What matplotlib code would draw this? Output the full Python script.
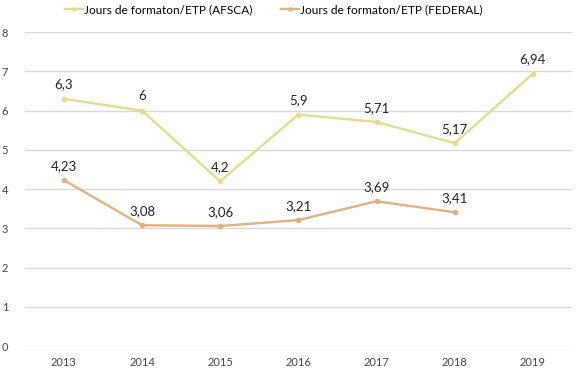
import matplotlib.pyplot as plt

# --- data ---
years = ['2013', '2014', '2015', '2016', '2017', '2018', '2019']
afsca = [6.3, 6.0, 4.2, 5.9, 5.71, 5.17, 6.94]
federal = [4.23, 3.08, 3.06, 3.21, 3.69, 3.41]
afsca_labels = ['6,3', '6', '4,2', '5,9', '5,71', '5,17', '6,94']
federal_labels = ['4,23', '3,08', '3,06', '3,21', '3,69', '3,41']

plt.rcParams['font.family'] = ['Lato', 'DejaVu Sans']

fig = plt.figure(figsize=(5.76, 3.69), dpi=100)
ax = fig.add_axes([0.043, 0.062, 0.95, 0.851])

x_a = list(range(len(afsca)))
x_f = list(range(len(federal)))
c_a = '#E6DB8C'
c_f = '#E2B07E'

ax.plot(x_a, afsca, '-o', color=c_a, lw=1.7, ms=3, label='Jours de formaton/ETP (AFSCA)')
ax.plot(x_f, federal, '-o', color=c_f, lw=1.7, ms=3, label='Jours de formaton/ETP (FEDERAL)')

for x, y, t in zip(x_a, afsca, afsca_labels):
    ax.annotate(t, (x, y), xytext=(0, 6), textcoords='offset points',
                ha='center', va='bottom', fontsize=9.5, color='#222222')
for x, y, t in zip(x_f, federal, federal_labels):
    ax.annotate(t, (x, y), xytext=(0, 6), textcoords='offset points',
                ha='center', va='bottom', fontsize=9.5, color='#222222')

ax.set_xlim(-0.5, len(years) - 0.5)
ax.set_ylim(0, 8)
ax.set_xticks(range(len(years)))
ax.set_xticklabels(years)
ax.set_yticks(range(0, 9))
ax.tick_params(length=0, labelsize=8, colors='#444444', pad=8)
ax.tick_params(axis='y', pad=12)
ax.grid(axis='y', color='#d9d9d9', lw=1)
ax.set_axisbelow(True)
for s in ax.spines.values():
    s.set_visible(False)

ax.legend(loc='lower center', bbox_to_anchor=(0.455, 1.03), ncol=2, frameon=False,
          fontsize=8.6, handlelength=1.5, handletextpad=0.1, columnspacing=2.4,
          borderaxespad=0.2, markerscale=0.7)

fig.savefig('out.png', dpi=100)
